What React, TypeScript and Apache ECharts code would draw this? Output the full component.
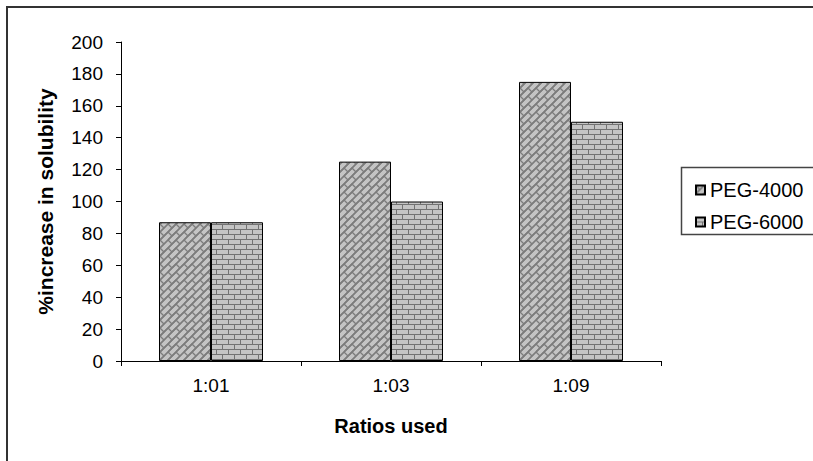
import React, { useEffect, useRef } from "react";
import * as echarts from "echarts";

const categories = ["1:01", "1:03", "1:09"];
const peg4000 = [87, 125, 175];
const peg6000 = [87, 100, 150];
const seriesNames = ["PEG-4000", "PEG-6000"];
const yTicks = { min: 0, max: 200, interval: 20 };

function weaveTile(): HTMLCanvasElement {
  const s = 16;
  const c = document.createElement("canvas");
  c.width = s;
  c.height = s;
  const g = c.getContext("2d")!;
  g.fillStyle = "#c4c4c4";
  g.fillRect(0, 0, s, s);
  g.strokeStyle = "#7c7c7c";
  g.lineWidth = 1.3;
  const joints = [
    [0, 8],
    [8, 0],
    [8, 8],
    [0, 0],
  ];
  for (let ox = -s; ox <= s; ox += s) {
    for (let oy = -s; oy <= s; oy += s) {
      for (let k = -16; k <= 32; k += 8) {
        g.beginPath();
        g.moveTo(ox + k, oy + 16);
        g.lineTo(ox + k + 16, oy);
        g.stroke();
      }
      for (const [x, y] of joints) {
        g.beginPath();
        g.moveTo(ox + x, oy + y);
        g.lineTo(ox + x + 4, oy + y + 4);
        g.stroke();
      }
    }
  }
  return c;
}

function brickTile(): HTMLCanvasElement {
  const w = 12;
  const h = 10;
  const c = document.createElement("canvas");
  c.width = w;
  c.height = h;
  const g = c.getContext("2d")!;
  g.fillStyle = "#c4c4c4";
  g.fillRect(0, 0, w, h);
  g.fillStyle = "#727272";
  g.fillRect(0, 4, w, 1);
  g.fillRect(0, 9, w, 1);
  g.fillRect(0, 0, 1, 4);
  g.fillRect(6, 5, 1, 4);
  return c;
}

export default function App() {
  const ref = useRef<HTMLDivElement>(null);
  useEffect(() => {
    if (!ref.current) return;
    const chart = echarts.init(ref.current, null, { renderer: "svg" });
    const font = "'Liberation Sans', Arial, sans-serif";
    const p1 = { image: weaveTile(), repeat: "repeat" };
    const p2 = { image: brickTile(), repeat: "repeat" };
    chart.setOption({
      animation: false,
      backgroundColor: "#ffffff",
      textStyle: { fontFamily: font },
      grid: { left: 121, top: 42, width: 540, height: 319, containLabel: false },
      legend: {
        orient: "vertical",
        left: 690,
        top: 175,
        itemWidth: 9,
        itemHeight: 9,
        itemGap: 12,
        icon: "rect",
        textStyle: { fontSize: 20, color: "#000", fontFamily: font, lineHeight: 20 },
        data: seriesNames,
      },
      graphic: [
        {
          type: "rect",
          shape: { x: 7, y: 7, width: 830, height: 480 },
          style: { fill: "none", stroke: "#333", lineWidth: 2 },
          silent: true,
        },
        {
          type: "rect",
          shape: { x: 681.5, y: 167.5, width: 200, height: 67 },
          style: { fill: "none", stroke: "#444", lineWidth: 1.5 },
          silent: true,
        },
      ],
      xAxis: {
        type: "category",
        data: categories,
        name: "Ratios used",
        nameLocation: "middle",
        nameGap: 55,
        nameTextStyle: { fontSize: 20, fontWeight: "bold", color: "#000", fontFamily: font },
        axisLine: { lineStyle: { color: "#000", width: 1 } },
        axisTick: { show: true, length: 5, lineStyle: { color: "#000" } },
        axisLabel: { fontSize: 19, color: "#000", margin: 15, fontFamily: font },
      },
      yAxis: {
        type: "value",
        min: yTicks.min,
        max: yTicks.max,
        interval: yTicks.interval,
        name: "%increase in solubility",
        nameLocation: "middle",
        nameGap: 65,
        nameTextStyle: { fontSize: 21, fontWeight: "bold", color: "#000", fontFamily: font },
        axisLine: { show: true, lineStyle: { color: "#000", width: 1 } },
        axisTick: { show: true, length: 5, lineStyle: { color: "#000" } },
        axisLabel: { fontSize: 19, color: "#000", margin: 18, fontFamily: font },
        splitLine: { show: false },
      },
      series: [
        {
          name: seriesNames[0],
          type: "bar",
          data: peg4000,
          barWidth: 52,
          barGap: "0%",
          itemStyle: { color: p1, borderColor: "#000", borderWidth: 1 },
        },
        {
          name: seriesNames[1],
          type: "bar",
          data: peg6000,
          barWidth: 52,
          barGap: "0%",
          itemStyle: { color: p2, borderColor: "#000", borderWidth: 1 },
        },
      ],
    });
    return () => chart.dispose();
  }, []);
  return <div ref={ref} style={{ width: 813, height: 461, position: "absolute", left: 0, top: 0 }} />;
}
